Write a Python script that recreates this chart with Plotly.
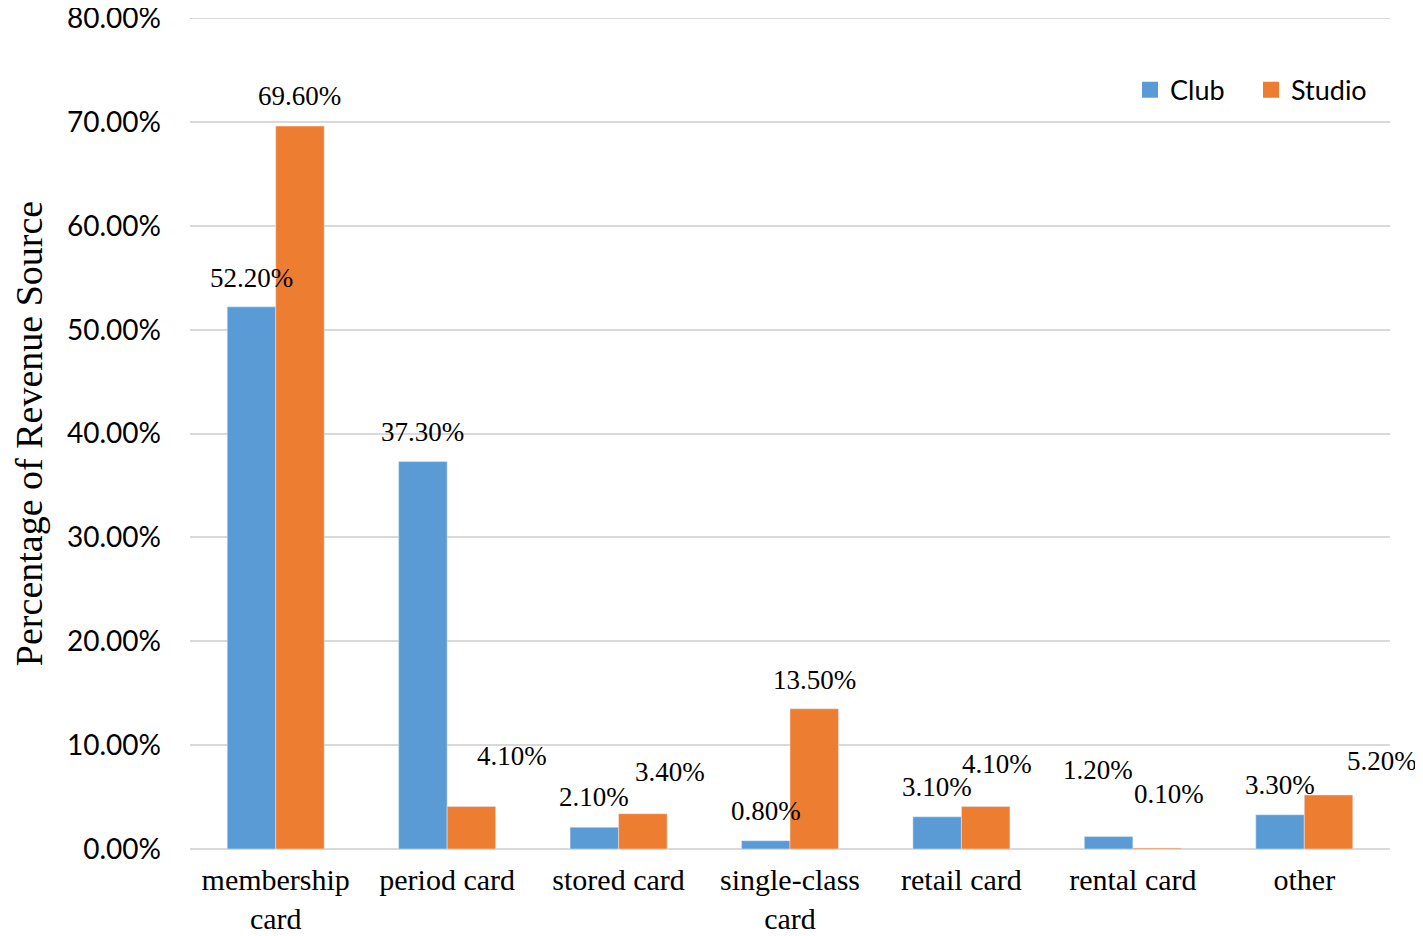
import plotly.graph_objects as go

categories = ["membership<br>card", "period card", "stored card", "single-class<br>card",
              "retail card", "rental card", "other"]
club = [0.522, 0.373, 0.021, 0.008, 0.031, 0.012, 0.033]
studio = [0.696, 0.041, 0.034, 0.135, 0.041, 0.001, 0.052]

# label offsets (px) relative to bar top / bar center
club_dx = [0, 0, 0, 0, 0, -11, 0]
club_dy = [29, 30, 30, 30, 30, 67, 30]
studio_dx = [0, 41, 27, 0, 11, 12, 53]
studio_dy = [30, 50, 42, 29, 42, 54, 34]

BLUE = "#5b9bd5"
ORANGE = "#ed7d31"
GRID = "#d9d9d9"
SERIF = "Liberation Serif"
SANS = "Lato"

fig = go.Figure()
fig.add_trace(go.Bar(name="Club", x=categories, y=club, marker_color=BLUE, showlegend=False))
fig.add_trace(go.Bar(name="Studio", x=categories, y=studio, marker_color=ORANGE, showlegend=False))
for name, col in (("Club", BLUE), ("Studio", ORANGE)):
    fig.add_trace(go.Scatter(name=name, x=[None], y=[None], mode="markers",
                             marker=dict(symbol="square", size=17, color=col)))

# page body has an 8px margin, so the figure is sized to fit the window after it
W, H = 1415, 928
ml, mr, mt, mb = 182, 33, 10, 87
plot_w = W - ml - mr
bar_w = plot_w / len(categories) * (1 - 0.434) / 2

for i, c in enumerate(categories):
    fig.add_annotation(x=c, y=club[i], text=f"{club[i]*100:.2f}%", showarrow=False,
                       xshift=-bar_w / 2 + club_dx[i], yshift=club_dy[i], yanchor="middle",
                       font=dict(family=SERIF, size=27, color="black"))
    fig.add_annotation(x=c, y=studio[i], text=f"{studio[i]*100:.2f}%", showarrow=False,
                       xshift=bar_w / 2 + studio_dx[i], yshift=studio_dy[i], yanchor="middle",
                       font=dict(family=SERIF, size=27, color="black"))

# top gridline at the 80% edge
fig.add_shape(type="line", xref="paper", x0=0, x1=1, yref="y", y0=0.8, y1=0.8,
              line=dict(color=GRID, width=2), layer="below")

fig.update_layout(
    width=W, height=H,
    margin=dict(l=ml, r=mr, t=mt, b=mb, autoexpand=False),
    plot_bgcolor="white", paper_bgcolor="white",
    barmode="group", bargap=0.434, bargroupgap=0,
    legend=dict(orientation="h", x=0.985, xanchor="right", y=0.913, yanchor="middle",
                font=dict(family=SANS, size=27, color="black"), bgcolor="rgba(0,0,0,0)",
                itemwidth=30, entrywidth=76, entrywidthmode="pixels"),
    xaxis=dict(showline=False, showgrid=False, automargin=False,
               range=[-0.5, len(categories) - 0.5],
               tickfont=dict(family=SERIF, size=30, color="black"),
               ticklabelstandoff=10, ticklabeloverflow="allow"),
    yaxis=dict(range=[0, 0.8001], tickvals=[0, 0.1, 0.2, 0.3, 0.4, 0.5, 0.6, 0.7, 0.8],
               tickformat=".2%", automargin=False,
               showgrid=True, gridcolor=GRID, gridwidth=2,
               zeroline=True, zerolinecolor=GRID, zerolinewidth=2,
               tickfont=dict(family=SANS, size=28, color="black"),
               ticklabelstandoff=28, ticklabeloverflow="allow",
               title=dict(text="Percentage of Revenue Source",
                          font=dict(family=SERIF, size=38, color="black"), standoff=36)),
)

fig.write_html("out.html")
